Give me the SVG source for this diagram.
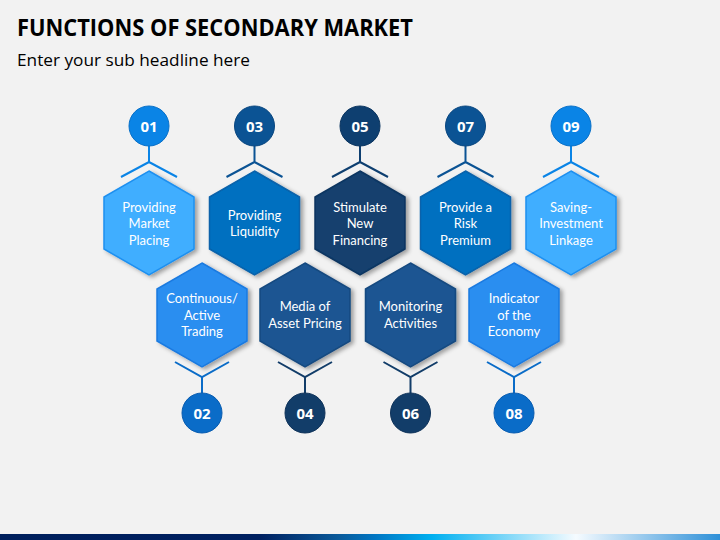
<svg xmlns="http://www.w3.org/2000/svg" width="720" height="540" viewBox="0 0 720 540">
<defs>
<style>
.title{font-family:"Open Sans","Liberation Sans",sans-serif;font-weight:bold;font-size:23px;fill:#000}
.sub{font-family:"Open Sans","Liberation Sans",sans-serif;font-size:17px;fill:#000}
.lbl{font-family:Lato,"Open Sans","Liberation Sans",sans-serif;font-size:13px;fill:#fff;text-anchor:middle}
.num{font-family:"Open Sans","Liberation Sans",sans-serif;font-weight:bold;font-size:15px;fill:#fff;text-anchor:middle}
.hex{stroke-width:1.5;filter:url(#sh)}
.con{fill:none;stroke-width:2}
</style>
<filter id="sh" x="-20%" y="-20%" width="150%" height="150%">
<feDropShadow dx="3" dy="2" stdDeviation="2" flood-color="#000" flood-opacity="0.35"/>
</filter>
<polygon id="hx" points="0,-52 45,-26 45,26 0,52 -45,26 -45,-26"/>
<linearGradient id="bar" x1="0" y1="0" x2="1" y2="0">
<stop offset="0" stop-color="#001F5C"/>
<stop offset="0.36" stop-color="#002060"/>
<stop offset="0.47" stop-color="#0A5A9A"/>
<stop offset="0.52" stop-color="#0075C2"/>
<stop offset="0.6" stop-color="#00B0F0"/>
<stop offset="0.8" stop-color="#F5FBFF"/>
<stop offset="1" stop-color="#2E90D8"/>
</linearGradient>
</defs>
<rect width="720" height="540" fill="#F2F2F2"/>
<rect x="0" y="534" width="720" height="6" fill="url(#bar)"/>
<text class="title" x="17" y="36" textLength="396" lengthAdjust="spacingAndGlyphs">FUNCTIONS OF SECONDARY MARKET</text>
<text class="sub" x="17" y="66" textLength="233" lengthAdjust="spacingAndGlyphs">Enter your sub headline here</text>

<g id="connectors">
<path class="con" stroke="#0A84E6" d="M149,146V162M121,177L149,162L177,177"/>
<path class="con" stroke="#0B5394" d="M254.5,146V162M226.5,177L254.5,162L282.5,177"/>
<path class="con" stroke="#0E3F70" d="M360,146V162M332,177L360,162L388,177"/>
<path class="con" stroke="#0B5394" d="M465.5,146V162M437.5,177L465.5,162L493.5,177"/>
<path class="con" stroke="#0A84E6" d="M571,146V162M543,177L571,162L599,177"/>
<path class="con" stroke="#0A6CC8" d="M175,362L202,377L229,362M202,377V393"/>
<path class="con" stroke="#123D69" d="M278,362L305,377L332,362M305,377V393"/>
<path class="con" stroke="#123D69" d="M383.5,362L410.5,377L437.5,362M410.5,377V393"/>
<path class="con" stroke="#0A6CC8" d="M487,362L514,377L541,362M514,377V393"/>
</g>

<g id="node01">
<use href="#hx" x="149" y="223" class="hex" fill="#41AEFF" stroke="#1E90F0"/>
<text class="lbl"><tspan x="149" y="211.5">Providing</tspan><tspan x="149" y="228">Market</tspan><tspan x="149" y="244.5">Placing</tspan></text>
<circle cx="149" cy="126" r="20" fill="#0A84E6" stroke="#0870C8" stroke-width="1"/>
<text class="num" x="149" y="131.5">01</text>
</g>
<g id="node03">
<use href="#hx" x="254.5" y="223" class="hex" fill="#0070C0" stroke="#0862AA"/>
<text class="lbl"><tspan x="254.5" y="219.5">Providing</tspan><tspan x="254.5" y="236">Liquidity</tspan></text>
<circle cx="254.5" cy="126" r="20" fill="#0B5394" stroke="#0A4780" stroke-width="1"/>
<text class="num" x="254.5" y="131.5">03</text>
</g>
<g id="node05">
<use href="#hx" x="360" y="223" class="hex" fill="#123F6E" stroke="#0E3560"/>
<text class="lbl"><tspan x="360" y="211.5">Stimulate</tspan><tspan x="360" y="228">New</tspan><tspan x="360" y="244.5">Financing</tspan></text>
<circle cx="360" cy="126" r="20" fill="#0E3F70" stroke="#0B3560" stroke-width="1"/>
<text class="num" x="360" y="131.5">05</text>
</g>
<g id="node07">
<use href="#hx" x="465.5" y="223" class="hex" fill="#0070C0" stroke="#0862AA"/>
<text class="lbl"><tspan x="465.5" y="211.5">Provide a</tspan><tspan x="465.5" y="228">Risk</tspan><tspan x="465.5" y="244.5">Premium</tspan></text>
<circle cx="465.5" cy="126" r="20" fill="#0B5394" stroke="#0A4780" stroke-width="1"/>
<text class="num" x="465.5" y="131.5">07</text>
</g>
<g id="node09">
<use href="#hx" x="571" y="223" class="hex" fill="#41AEFF" stroke="#1E90F0"/>
<text class="lbl"><tspan x="571" y="211.5">Saving-</tspan><tspan x="571" y="228">Investment</tspan><tspan x="571" y="244.5">Linkage</tspan></text>
<circle cx="571" cy="126" r="20" fill="#0A84E6" stroke="#0870C8" stroke-width="1"/>
<text class="num" x="571" y="131.5">09</text>
</g>

<g id="node02">
<use href="#hx" x="202" y="315" class="hex" fill="#2B8EF0" stroke="#1A7AE0"/>
<text class="lbl"><tspan x="202" y="303">Continuous/</tspan><tspan x="202" y="319.5">Active</tspan><tspan x="202" y="336">Trading</tspan></text>
<circle cx="202" cy="413" r="20" fill="#0A6CC8" stroke="#085CB0" stroke-width="1"/>
<text class="num" x="202" y="418.5">02</text>
</g>
<g id="node04">
<use href="#hx" x="305" y="315" class="hex" fill="#1B5592" stroke="#164A80"/>
<text class="lbl"><tspan x="305" y="311">Media of</tspan><tspan x="305" y="327.5">Asset Pricing</tspan></text>
<circle cx="305" cy="413" r="20" fill="#123D69" stroke="#0F335A" stroke-width="1"/>
<text class="num" x="305" y="418.5">04</text>
</g>
<g id="node06">
<use href="#hx" x="410.5" y="315" class="hex" fill="#1B5592" stroke="#164A80"/>
<text class="lbl"><tspan x="410.5" y="311">Monitoring</tspan><tspan x="410.5" y="327.5">Activities</tspan></text>
<circle cx="410.5" cy="413" r="20" fill="#123D69" stroke="#0F335A" stroke-width="1"/>
<text class="num" x="410.5" y="418.5">06</text>
</g>
<g id="node08">
<use href="#hx" x="514" y="315" class="hex" fill="#2B8EF0" stroke="#1A7AE0"/>
<text class="lbl"><tspan x="514" y="303">Indicator</tspan><tspan x="514" y="319.5">of the</tspan><tspan x="514" y="336">Economy</tspan></text>
<circle cx="514" cy="413" r="20" fill="#0A6CC8" stroke="#085CB0" stroke-width="1"/>
<text class="num" x="514" y="418.5">08</text>
</g>
</svg>
